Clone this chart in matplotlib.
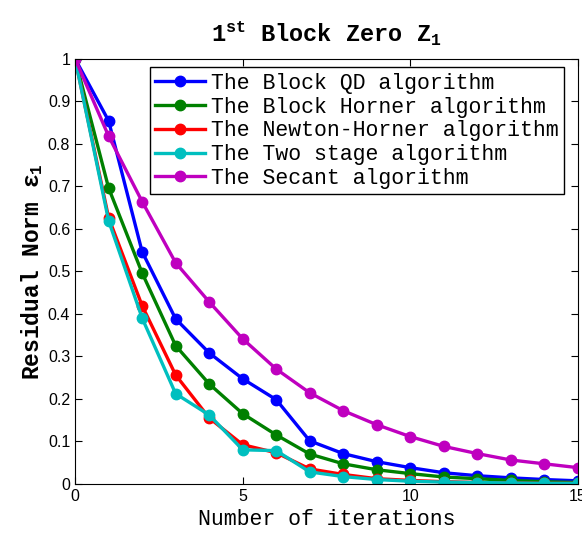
import numpy as np
import matplotlib
matplotlib.use("Agg")
import matplotlib.pyplot as plt
from matplotlib.ticker import FormatStrFormatter

# residual norm per iteration
iterations = np.arange(0, 16)
block_qd = [1.0, 0.854, 0.546, 0.388, 0.308, 0.247, 0.198, 0.101, 0.071, 0.052,
            0.038, 0.026, 0.019, 0.014, 0.010, 0.007]
block_horner = [1.0, 0.696, 0.496, 0.325, 0.235, 0.165, 0.115, 0.070, 0.047, 0.033,
                0.024, 0.016, 0.012, 0.008, 0.005, 0.003]
newton_horner = [1.0, 0.626, 0.419, 0.256, 0.155, 0.092, 0.073, 0.035, 0.022, 0.012,
                 0.008, 0.005, 0.003, 0.002, 0.001, 0.001]
two_stage = [1.0, 0.619, 0.390, 0.212, 0.162, 0.080, 0.078, 0.028, 0.017, 0.010,
             0.006, 0.004, 0.003, 0.002, 0.001, 0.001]
secant = [1.0, 0.818, 0.664, 0.520, 0.428, 0.341, 0.270, 0.214, 0.172, 0.139,
          0.111, 0.088, 0.071, 0.056, 0.047, 0.038]

labels = ["The Block QD algorithm", "The Block Horner algorithm",
          "The Newton-Horner algorithm", "The Two stage algorithm",
          "The Secant algorithm"]
colors = ["#0000ff", "#008000", "#ff0000", "#00bfbf", "#bf00bf"]
series = [block_qd, block_horner, newton_horner, two_stage, secant]

plt.rcParams['mathtext.fontset'] = 'custom'
plt.rcParams['mathtext.rm'] = 'Liberation Mono:bold'
plt.rcParams['mathtext.it'] = 'Liberation Mono:bold'
plt.rcParams['mathtext.bf'] = 'Liberation Mono:bold'

fig = plt.figure(figsize=(5.82, 5.34), dpi=100)
ax = fig.add_axes([0.129, 0.094, 0.864, 0.796])

for vals, lab, col in zip(series, labels, colors):
    ax.plot(iterations, vals, '-o', color=col, label=lab, linewidth=2.4,
            markersize=7.5)

ax.set_xlim(0, 15)
ax.set_ylim(0, 1)
ax.set_xticks([0, 5, 10, 15])
ax.set_yticks(np.arange(0, 1.01, 0.1))
ax.yaxis.set_major_formatter(FormatStrFormatter('%g'))
ax.tick_params(direction='in', top=True, right=True, labelsize=11.5, length=5)
for lbl in ax.get_xticklabels() + ax.get_yticklabels():
    lbl.set_family('Liberation Sans')

ax.set_xlabel("Number of iterations", family='Liberation Mono', fontsize=15.5,
              labelpad=4)
ax.set_ylabel(r"Residual Norm $\epsilon_1$", family='Liberation Mono',
              fontweight='bold', fontsize=16.5, labelpad=2)
ax.set_title(r"1$^{st}$ Block Zero Z$_1$", family='Liberation Mono',
             fontweight='bold', fontsize=17, pad=12)

leg = ax.legend(loc='upper right', bbox_to_anchor=(0.986, 0.995),
                prop={'family': 'Liberation Mono', 'size': 15.5},
                handlelength=2.3, labelspacing=0.13, borderpad=0.25,
                handletextpad=0.3, borderaxespad=0.3, fancybox=False,
                framealpha=1, edgecolor='black')
leg.get_frame().set_linewidth(1.0)

fig.savefig("out.png", dpi=100)
